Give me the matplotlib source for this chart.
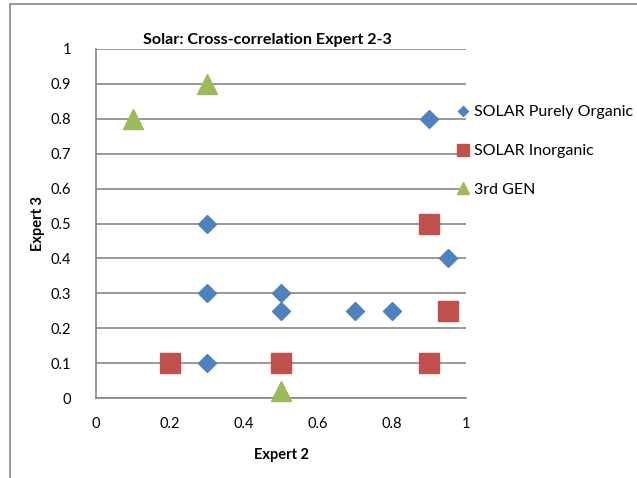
import matplotlib
matplotlib.use("Agg")
import matplotlib.pyplot as plt
from matplotlib.lines import Line2D
from matplotlib.patches import Rectangle

plt.rcParams['font.family'] = ['Lato', 'DejaVu Sans']

# Data
organic_x = [0.9, 0.3, 0.95, 0.3, 0.5, 0.5, 0.7, 0.8, 0.3]
organic_y = [0.8, 0.5, 0.4, 0.3, 0.3, 0.25, 0.25, 0.25, 0.1]
inorganic_x = [0.9, 0.95, 0.2, 0.5, 0.9]
inorganic_y = [0.5, 0.25, 0.1, 0.1, 0.1]
gen3_x = [0.1, 0.3, 0.5]
gen3_y = [0.8, 0.9, 0.02]
series_names = ["SOLAR Purely Organic", "SOLAR Inorganic", "3rd GEN"]
x_ticks = [0, 0.2, 0.4, 0.6, 0.8, 1]
y_ticks = [0, 0.1, 0.2, 0.3, 0.4, 0.5, 0.6, 0.7, 0.8, 0.9, 1]

blue = '#4F81BD'
red = '#C0504D'
green = '#9BBB59'
grid_c = '#868686'

W, H = 637, 478
fig = plt.figure(figsize=(W / 100, H / 100), dpi=100)
fig.patch.set_facecolor('white')

# outer chart border
fig.patches.append(Rectangle((10 / W, -0.1), 2, 1.1 - 4 / H, transform=fig.transFigure,
                             fill=False, edgecolor='#888888', lw=1.2, zorder=0))

ax = fig.add_axes([96 / W, (H - 398) / H, (466 - 96) / W, (398 - 49) / H])
ax.set_xlim(0, 1)
ax.set_ylim(0, 1)
ax.set_xticks(x_ticks)
ax.set_xticklabels([f"{v:g}" for v in x_ticks])
ax.set_yticks(y_ticks)
ax.set_yticklabels([f"{v:g}" for v in y_ticks])
ax.tick_params(length=0, labelsize=10.5, colors='black', pad=14)
ax.tick_params(axis='y', pad=18)
ax.yaxis.grid(True, color=grid_c, lw=1.2)
ax.set_axisbelow(True)
for s in ['top', 'right']:
    ax.spines[s].set_visible(False)
for s in ['left', 'bottom']:
    ax.spines[s].set_color(grid_c)
    ax.spines[s].set_linewidth(1.2)

ax.plot(organic_x, organic_y, 'D', color=blue, ms=9.5, mec=blue, clip_on=False, zorder=3)
ax.plot(inorganic_x, inorganic_y, 's', color=red, ms=14, mec=red, clip_on=False, zorder=3)
ax.plot(gen3_x, gen3_y, '^', color=green, ms=14.5, mec=green, clip_on=False, zorder=3)

ax.set_xlabel("Expert 2", fontsize=10.5, fontweight='bold', labelpad=12)
ax.set_ylabel("Expert 3", fontsize=10.5, fontweight='bold', labelpad=4)

fig.text(267 / W, 1 - 40 / H, "Solar: Cross-correlation Expert 2-3", ha='center', va='center',
         fontsize=11.6, fontweight='bold')

handles = [
    Line2D([], [], ls='none', marker='D', color=blue, ms=5.5),
    Line2D([], [], ls='none', marker='s', color=red, ms=8.5),
    Line2D([], [], ls='none', marker='^', color=green, ms=8.5),
]
fig.legend(handles, series_names, loc='upper left', bbox_to_anchor=(457 / W, 1 - 105 / H),
           frameon=False, fontsize=11.5, handlelength=0.8, handletextpad=0.29,
           labelspacing=1.55, borderpad=0, borderaxespad=0)

fig.savefig("out.png", dpi=100)
